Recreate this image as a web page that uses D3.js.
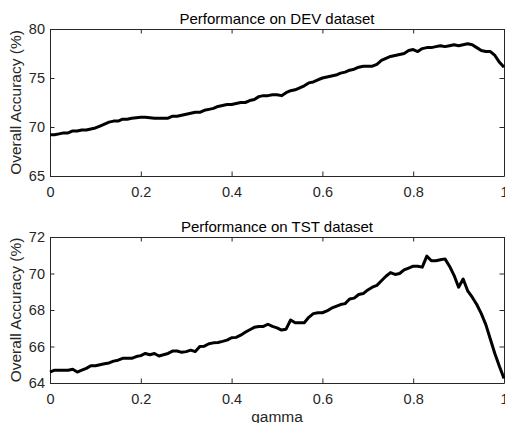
<!DOCTYPE html>
<html>
<head>
<meta charset="utf-8">
<script src="https://cdn.jsdelivr.net/npm/d3@7"></script>
<style>
  body { margin: 0; background: #fff; }
  svg { display: block; font-family: "Liberation Sans", Arial, sans-serif; }
</style>
</head>
<body>
<script>
// gamma from 0 to 1 in steps of 0.01
var gamma = d3.range(101).map(function(i) { return i / 100; });

// accuracy on DEV set (%)
var devAcc = [
  69.2, 69.2, 69.3, 69.4, 69.4, 69.6, 69.6, 69.7, 69.7, 69.8,
  69.9, 70.1, 70.3, 70.5, 70.6, 70.6, 70.8, 70.8, 70.9, 70.95,
  71.0, 71.0, 70.95, 70.9, 70.9, 70.9, 70.9, 71.1, 71.1, 71.2,
  71.3, 71.4, 71.5, 71.5, 71.7, 71.8, 71.9, 72.1, 72.2, 72.3,
  72.3, 72.4, 72.5, 72.5, 72.7, 72.8, 73.1, 73.2, 73.2, 73.3,
  73.3, 73.2, 73.5, 73.7, 73.8, 74.0, 74.2, 74.5, 74.6, 74.8,
  75.0, 75.1, 75.2, 75.3, 75.5, 75.6, 75.8, 75.9, 76.1, 76.2,
  76.2, 76.2, 76.4, 76.8, 77.0, 77.2, 77.3, 77.4, 77.5, 77.8,
  77.9, 77.7, 78.0, 78.1, 78.1, 78.2, 78.3, 78.2, 78.3, 78.4,
  78.3, 78.4, 78.5, 78.4, 78.1, 77.8, 77.7, 77.7, 77.3, 76.6,
  76.1
];

// accuracy on TST set (%)
var tstAcc = [
  64.6, 64.7, 64.7, 64.7, 64.7, 64.75, 64.6, 64.7, 64.8, 64.95,
  64.95, 65.0, 65.05, 65.1, 65.2, 65.25, 65.35, 65.35, 65.35, 65.45,
  65.5, 65.62, 65.55, 65.62, 65.48, 65.55, 65.62, 65.75, 65.75, 65.68,
  65.72, 65.8, 65.72, 66.0, 66.02, 66.15, 66.2, 66.22, 66.28, 66.35,
  66.48, 66.5, 66.62, 66.78, 66.92, 67.05, 67.1, 67.1, 67.22, 67.1,
  67.02, 66.9, 66.95, 67.45, 67.3, 67.3, 67.3, 67.6, 67.8, 67.85,
  67.85, 67.95, 68.1, 68.2, 68.3, 68.35, 68.6, 68.65, 68.85, 68.9,
  69.1, 69.25, 69.35, 69.6, 69.85, 70.05, 69.95, 70.0, 70.2, 70.3,
  70.4, 70.4, 70.35, 70.95, 70.7, 70.7, 70.75, 70.8, 70.4, 69.9,
  69.25, 69.7, 69.05, 68.7, 68.3, 67.8, 67.2, 66.4, 65.6, 64.9,
  64.25
];

var xTicks = [0, 0.2, 0.4, 0.6, 0.8, 1];
var devTicks = [65, 70, 75, 80];
var tstTicks = [64, 66, 68, 70, 72];

var width = 505, height = 423;
var axisColor = "#262626";

var svg = d3.select("body").append("svg")
    .attr("width", width)
    .attr("height", height);

var x = d3.scaleLinear().domain([0, 1]).range([50, 504]);

function drawPanel(values, yDomain, yTicks, top, bottom, title, showXLabel) {
  var y = d3.scaleLinear().domain(yDomain).range([bottom, top]);
  var g = svg.append("g");

  // box + inward ticks, like matlab
  g.append("g")
      .attr("transform", "translate(0," + bottom + ")")
      .call(d3.axisBottom(x).tickValues(xTicks).tickSizeInner(-4.5).tickSizeOuter(0)
        .tickPadding(11).tickFormat(d3.format("~g")));
  g.append("g")
      .attr("transform", "translate(0," + top + ")")
      .call(d3.axisTop(x).tickValues(xTicks).tickSizeInner(-4.5).tickSizeOuter(0).tickFormat(""));
  g.append("g")
      .attr("transform", "translate(" + x(0) + ",0)")
      .call(d3.axisLeft(y).tickValues(yTicks).tickSizeInner(-4.5).tickSizeOuter(0).tickPadding(5));
  g.append("g")
      .attr("transform", "translate(" + x(1) + ",0)")
      .call(d3.axisRight(y).tickValues(yTicks).tickSizeInner(-4.5).tickSizeOuter(0).tickFormat(""));

  g.selectAll(".domain, .tick line").attr("stroke", axisColor);
  g.selectAll(".tick text")
      .attr("fill", axisColor)
      .style("font-size", "14.5px")
      .style("font-family", "'Liberation Sans', Arial, sans-serif");

  var line = d3.line()
      .x(function(d, i) { return x(gamma[i]); })
      .y(function(d) { return y(d); });

  g.append("path")
      .datum(values)
      .attr("d", line)
      .attr("fill", "none")
      .attr("stroke", "#000")
      .attr("stroke-width", 3)
      .attr("stroke-linejoin", "round");

  g.append("text")
      .attr("x", 277)
      .attr("y", top - 5)
      .attr("text-anchor", "middle")
      .attr("fill", "#000")
      .style("font-size", "15px")
      .text(title);

  g.append("text")
      .attr("transform", "translate(21," + (top + bottom) / 2 + ") rotate(-90)")
      .attr("text-anchor", "middle")
      .attr("fill", axisColor)
      .style("font-size", "15.5px")
      .text("Overall Accuracy (%)");

  if (showXLabel) {
    g.append("text")
        .attr("x", 277)
        .attr("y", bottom + 39)
        .attr("text-anchor", "middle")
        .attr("fill", axisColor)
        .style("font-size", "15.5px")
        .text("gamma");
  }
}

drawPanel(devAcc, [65, 80], devTicks, 29, 176, "Performance on DEV dataset", false);
drawPanel(tstAcc, [64, 72], tstTicks, 237, 383, "Performance on TST dataset", true);
</script>
</body>
</html>
